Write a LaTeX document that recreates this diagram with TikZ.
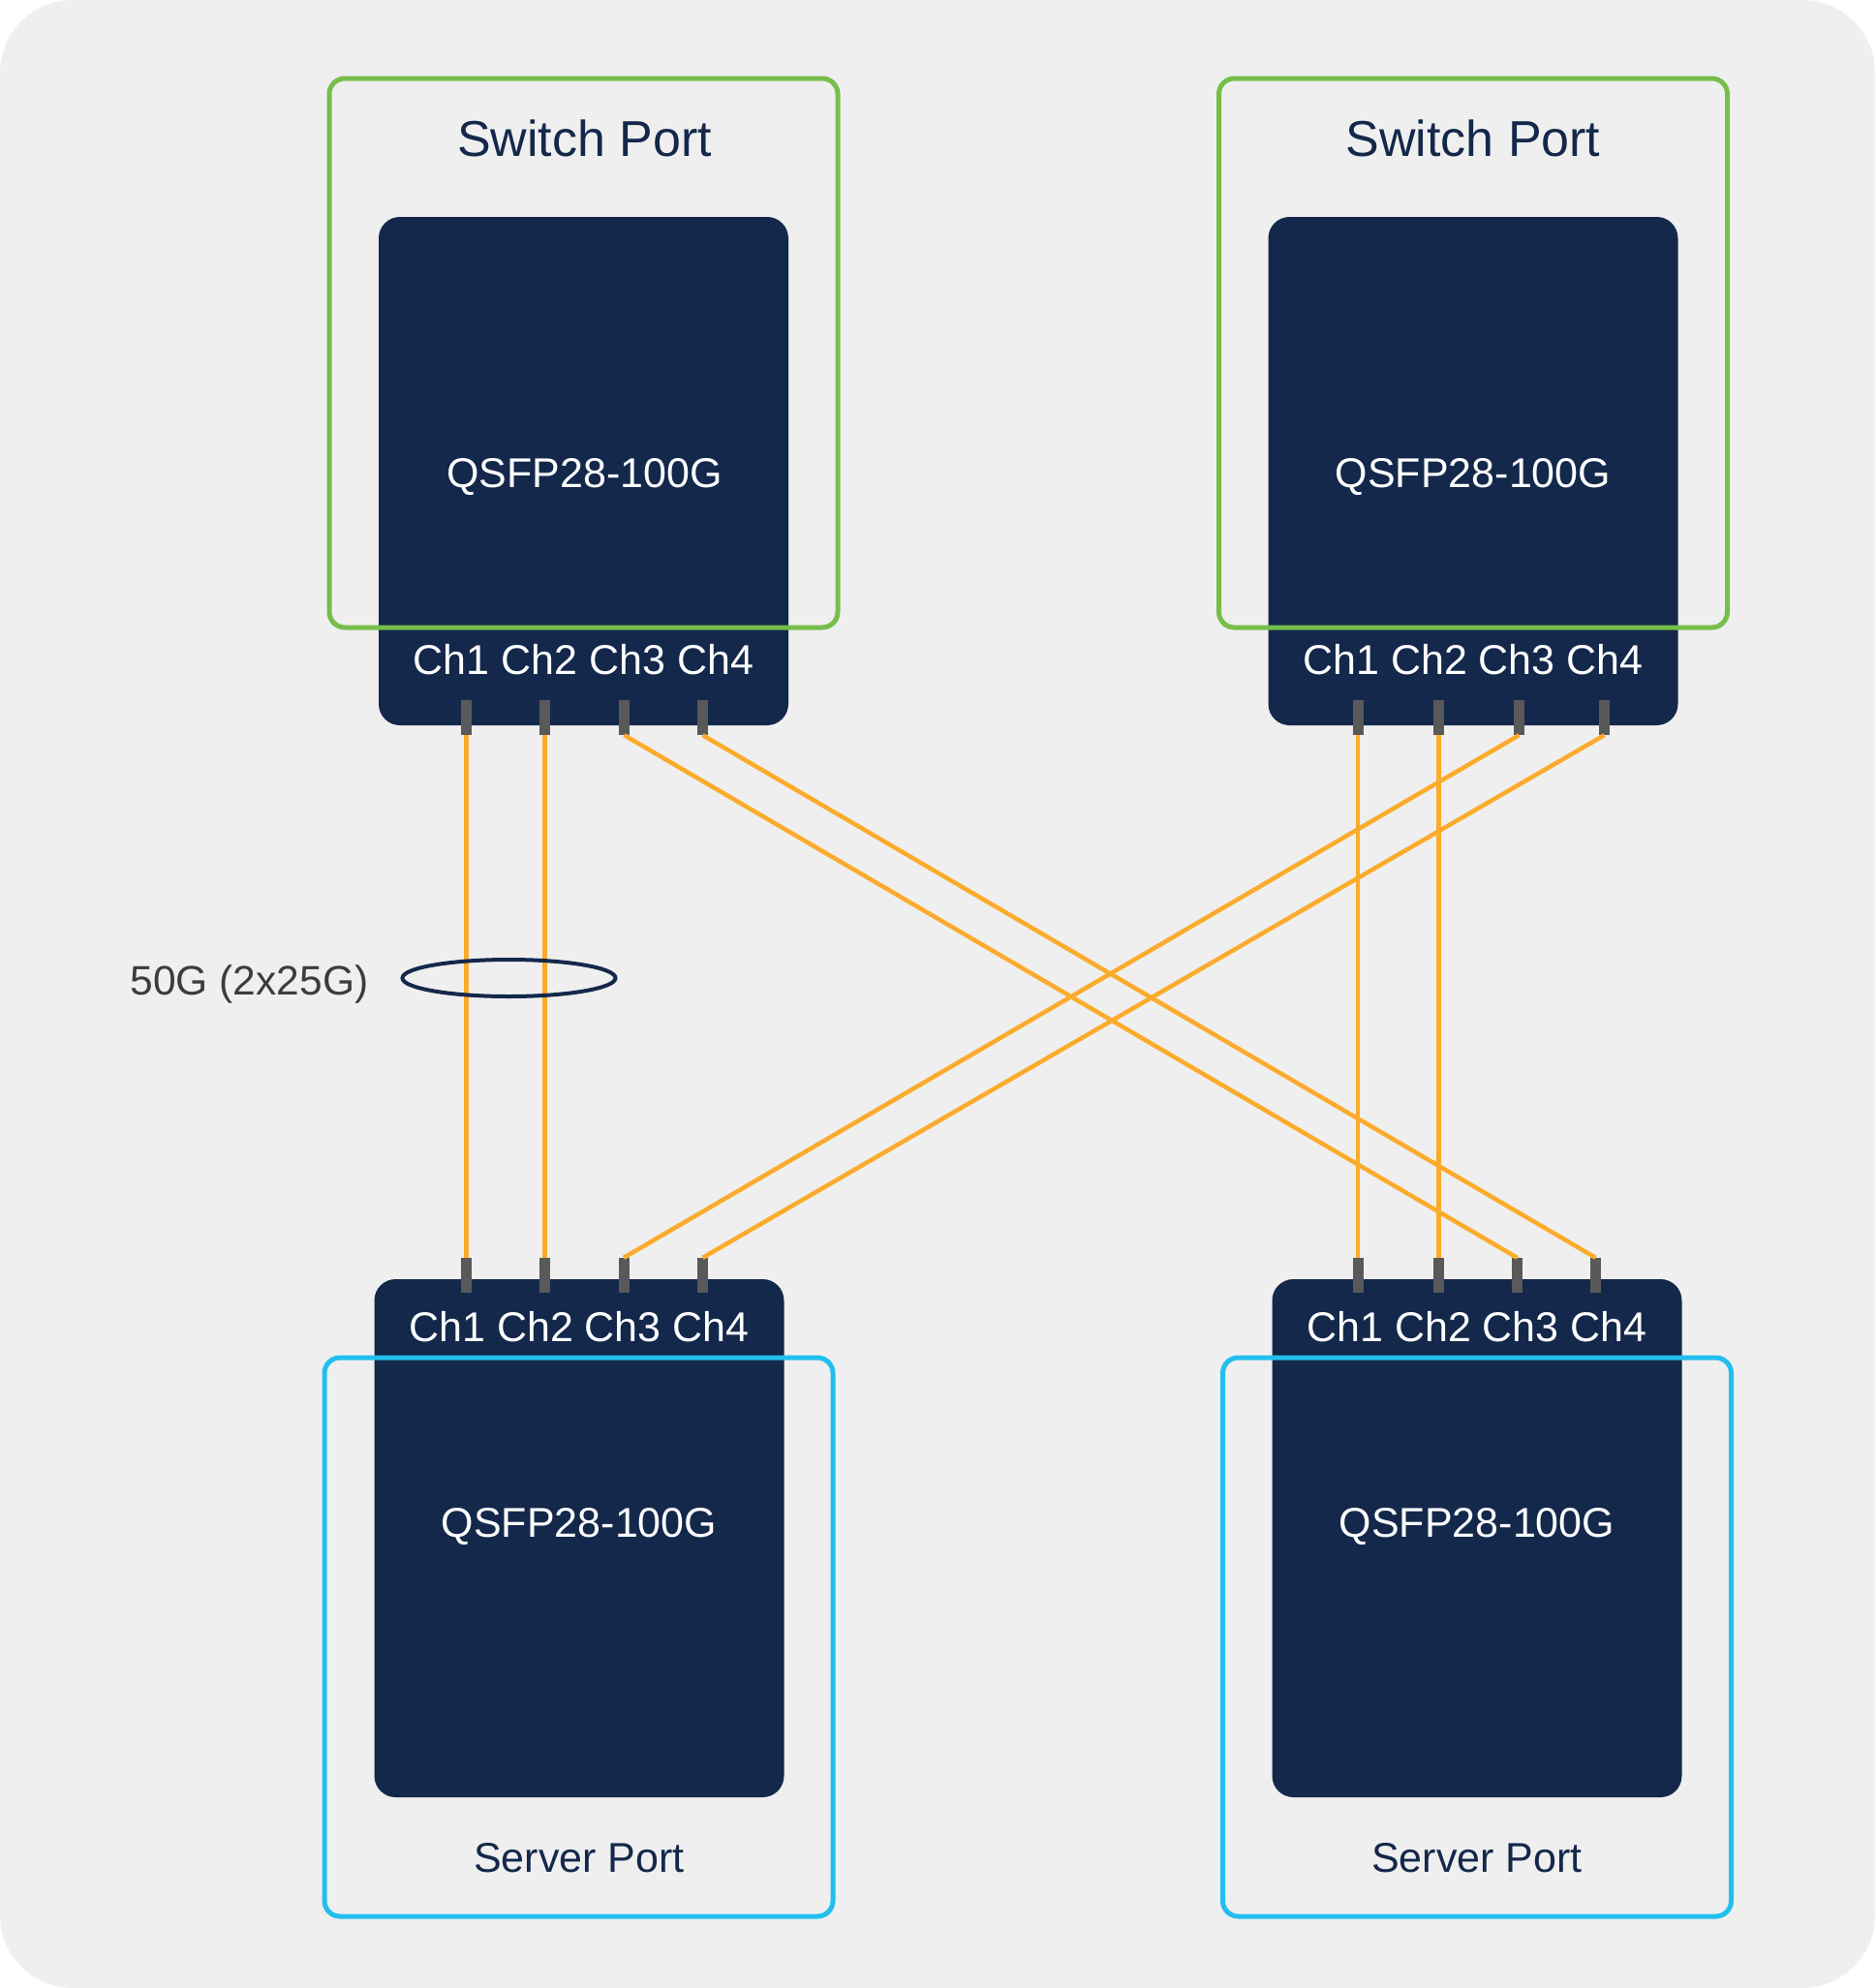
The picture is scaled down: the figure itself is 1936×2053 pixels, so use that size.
\documentclass[tikz,border=0pt]{standalone}
\usepackage{fontspec}
\setmainfont{Liberation Sans}
\usetikzlibrary{shapes.geometric}

\definecolor{panelgray}{HTML}{EFEFEF}
\definecolor{qsfpnavy}{HTML}{14284B}
\definecolor{switchgreen}{HTML}{76BE4B}
\definecolor{serverblue}{HTML}{22BFEE}
\definecolor{fiberorange}{HTML}{FBAB2C}
\definecolor{pingray}{HTML}{595959}
\definecolor{labelgray}{HTML}{3C3C3C}

\tikzset{
  module/.style={fill=qsfpnavy, rounded corners=22pt, inner sep=0pt,
    minimum width=423pt},
  switchframe/.style={draw=switchgreen, line width=5pt, rounded corners=16pt,
    inner sep=0pt, minimum width=525pt, minimum height=567pt},
  serverframe/.style={draw=serverblue, line width=5pt, rounded corners=16pt,
    inner sep=0pt, minimum width=525pt, minimum height=577pt},
  pin/.style={fill=pingray, inner sep=0pt, minimum width=11pt,
    minimum height=36pt},
  fiber/.style={draw=fiberorange, line width=4.5pt},
  porttitle/.style={anchor=base, text=qsfpnavy, font=\fontsize{52}{60}\selectfont},
  portname/.style={anchor=base, text=qsfpnavy, font=\fontsize{43}{50}\selectfont},
  modtext/.style={anchor=base, text=white, font=\fontsize{43}{50}\selectfont}
}

\begin{document}
\begin{tikzpicture}[x=1pt,y=-1pt]
  \useasboundingbox (0,0) rectangle (1936,2053);
  \fill[panelgray, rounded corners=75pt] (0,0) rectangle (1936,2053);

  % switch side
  \node[module, minimum height=525pt] (tlmod) at (602.5,486.5) {};
  \node[module, minimum height=525pt] (trmod) at (1521,486.5) {};
  \node[switchframe] (tlframe) at (602.5,364.5) {};
  \node[switchframe] (trframe) at (1521,364.5) {};
  \node[porttitle] (tltitle) at (603.5,161) {Switch Port};
  \node[porttitle] (trtitle) at (1521,161) {Switch Port};
  \node[modtext] (tlname) at (603.5,503) {QSFP28-100G};
  \node[modtext] (trname) at (1521,503) {QSFP28-100G};
  \node[modtext] (tlch) at (602.5,696) {Ch1 Ch2 Ch3 Ch4};
  \node[modtext] (trch) at (1521,696) {Ch1 Ch2 Ch3 Ch4};

  % server side
  \node[module, minimum height=535pt] (blmod) at (598,1588.5) {};
  \node[module, minimum height=535pt] (brmod) at (1525,1588.5) {};
  \node[serverframe] (blframe) at (597.5,1690.5) {};
  \node[serverframe] (brframe) at (1525,1690.5) {};
  \node[portname] (bltitle) at (598,1933) {Server Port};
  \node[portname] (brtitle) at (1525,1933) {Server Port};
  \node[modtext] (blname) at (598,1587) {QSFP28-100G};
  \node[modtext] (brname) at (1525,1587) {QSFP28-100G};
  \node[modtext] (blch) at (598,1385) {Ch1 Ch2 Ch3 Ch4};
  \node[modtext] (brch) at (1525,1385) {Ch1 Ch2 Ch3 Ch4};

  % channel pins
  \foreach \i/\x in {1/481.5,2/562.5,3/644.5,4/725.5}
    \node[pin] (tl\i) at (\x,741) {};
  \foreach \i/\x in {1/1402,2/1485.5,3/1568.5,4/1656.5}
    \node[pin] (tr\i) at (\x,741) {};
  \foreach \i/\x in {1/481.5,2/562.5,3/644,4/725.5}
    \node[pin] (bl\i) at (\x,1317) {};
  \foreach \i/\x in {1/1402,2/1485.5,3/1566.5,4/1647.5}
    \node[pin] (br\i) at (\x,1317) {};

  % breakout fibers
  \draw[fiber] (tl1.south) -- (bl1.north);
  \draw[fiber] (tl2.south) -- (bl2.north);
  \draw[fiber] (tl3.south) -- (br3.north);
  \draw[fiber] (tl4.south) -- (br4.north);
  \draw[fiber] (tr1.south) -- (br1.north);
  \draw[fiber] (tr2.south) -- (br2.north);
  \draw[fiber] (tr3.south) -- (bl3.north);
  \draw[fiber] (tr4.south) -- (bl4.north);

  % 50G bundle
  \node[ellipse, draw=qsfpnavy, line width=4pt, inner sep=0pt,
    minimum width=220pt, minimum height=38pt] (bundle) at (525.5,1010) {};
  \node[anchor=base, text=labelgray, font=\fontsize{42.5}{50}\selectfont]
    (bundlelabel) at (257.5,1027) {50G (2x25G)};
\end{tikzpicture}
\end{document}
